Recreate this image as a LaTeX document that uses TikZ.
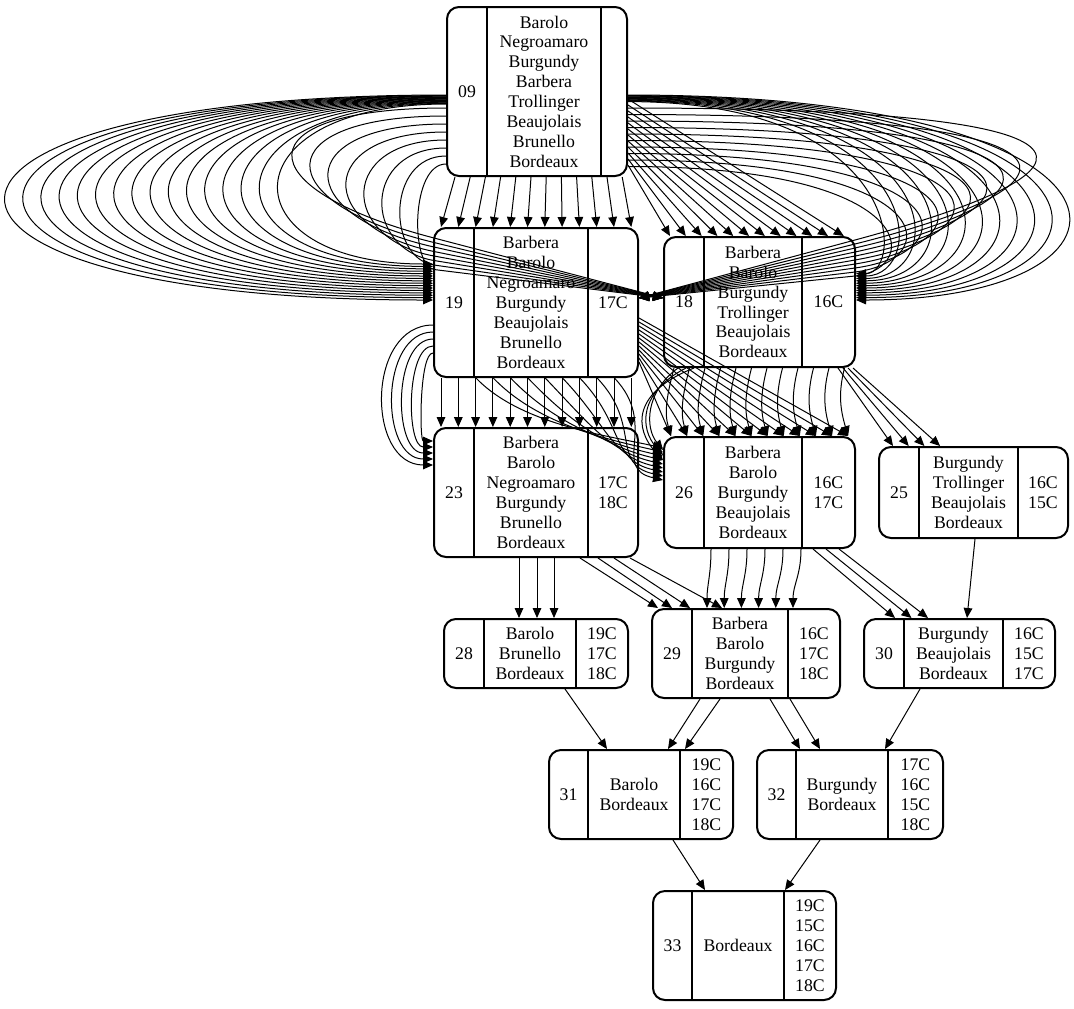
\documentclass[tikz,border=0pt]{standalone}
\usepackage{fontspec}
\setmainfont{Liberation Serif}
\usetikzlibrary{arrows.meta,fit}
\tikzset{
  recbox/.style={draw, line width=1.5pt, rounded corners=9pt, inner sep=0pt},
  recline/.style={line width=1.5pt},
  rectext/.style={font=\fontsize{13.3}{14.9}\selectfont, align=center, inner sep=0pt},
  edge/.style={line width=0.75pt, -{Triangle[length=7.5pt,width=6.5pt]}},
}
\newcommand\recframe[7]{%
  \node[recbox, fit={(#2,#3) (#4,#5)}] (#1) {};
  \draw[recline] (#1.north -| #6,0) -- (#1.south -| #6,0);
  \draw[recline] (#1.north -| #7,0) -- (#1.south -| #7,0);
  \coordinate (#1-a) at ({(#2+#6)/2},{(#3+#5)/2});
  \coordinate (#1-b) at ({(#6+#7)/2},{(#3+#5)/2});
  \coordinate (#1-c) at ({(#7+#4)/2},{(#3+#5)/2});
}
\begin{document}
\begin{tikzpicture}[x=0.75pt,y=-0.75pt]
\useasboundingbox (0,0) rectangle (1074,1008);

% ---------- nodes ----------
\recframe{n09}{447}{7}{627}{176}{487}{601}
\node[rectext] (n09-id) at (n09-a) {09};
\node[rectext] (n09-w) at (n09-b) {Barolo\\Negroamaro\\Burgundy\\Barbera\\Trollinger\\Beaujolais\\Brunello\\Bordeaux};

\recframe{n19}{434}{228}{638}{377}{474}{588}
\node[rectext] (n19-id) at (n19-a) {19};
\node[rectext] (n19-w) at (n19-b) {Barbera\\Barolo\\Negroamaro\\Burgundy\\Beaujolais\\Brunello\\Bordeaux};
\node[rectext] (n19-cc) at (n19-c) {17C};

\recframe{n18}{664}{237}{855}{367}{704}{802}
\node[rectext] (n18-id) at (n18-a) {18};
\node[rectext] (n18-w) at (n18-b) {Barbera\\Barolo\\Burgundy\\Trollinger\\Beaujolais\\Bordeaux};
\node[rectext] (n18-cc) at (n18-c) {16C};

\recframe{n23}{434}{428}{638}{557}{474}{588}
\node[rectext] (n23-id) at (n23-a) {23};
\node[rectext] (n23-w) at (n23-b) {Barbera\\Barolo\\Negroamaro\\Burgundy\\Brunello\\Bordeaux};
\node[rectext] (n23-cc) at (n23-c) {17C\\18C};

\recframe{n26}{664}{437}{855}{548}{704}{802}
\node[rectext] (n26-id) at (n26-a) {26};
\node[rectext] (n26-w) at (n26-b) {Barbera\\Barolo\\Burgundy\\Beaujolais\\Bordeaux};
\node[rectext] (n26-cc) at (n26-c) {16C\\17C};

\recframe{n25}{879}{447}{1068}{538}{919}{1018}
\node[rectext] (n25-id) at (n25-a) {25};
\node[rectext] (n25-w) at (n25-b) {Burgundy\\Trollinger\\Beaujolais\\Bordeaux};
\node[rectext] (n25-cc) at (n25-c) {16C\\15C};

\recframe{n28}{444}{619}{628}{688}{484}{576}
\node[rectext] (n28-id) at (n28-a) {28};
\node[rectext] (n28-w) at (n28-b) {Barolo\\Brunello\\Bordeaux};
\node[rectext] (n28-cc) at (n28-c) {19C\\17C\\18C};

\recframe{n29}{652}{609}{840}{698}{692}{788}
\node[rectext] (n29-id) at (n29-a) {29};
\node[rectext] (n29-w) at (n29-b) {Barbera\\Barolo\\Burgundy\\Bordeaux};
\node[rectext] (n29-cc) at (n29-c) {16C\\17C\\18C};

\recframe{n30}{864}{619}{1055}{688}{904}{1003}
\node[rectext] (n30-id) at (n30-a) {30};
\node[rectext] (n30-w) at (n30-b) {Burgundy\\Beaujolais\\Bordeaux};
\node[rectext] (n30-cc) at (n30-c) {16C\\15C\\17C};

\recframe{n31}{549}{750}{733}{839}{588}{680}
\node[rectext] (n31-id) at (n31-a) {31};
\node[rectext] (n31-w) at (n31-b) {Barolo\\Bordeaux};
\node[rectext] (n31-cc) at (n31-c) {19C\\16C\\17C\\18C};

\recframe{n32}{757}{750}{943}{839}{796}{888}
\node[rectext] (n32-id) at (n32-a) {32};
\node[rectext] (n32-w) at (n32-b) {Burgundy\\Bordeaux};
\node[rectext] (n32-cc) at (n32-c) {17C\\16C\\15C\\18C};

\recframe{n33}{653}{891}{836}{1000}{692}{784}
\node[rectext] (n33-id) at (n33-a) {33};
\node[rectext] (n33-w) at (n33-b) {Bordeaux};
\node[rectext] (n33-cc) at (n33-c) {19C\\15C\\16C\\17C\\18C};

% ---------- 09 -> 19 / 18 ----------
% big left loops 09 -> 19 (west)
\foreach \k in {0,...,15} {
  \pgfmathsetmacro\X{6+18.2*\k}
  \pgfmathsetmacro\ys{95+0.6*\k}
  \pgfmathsetmacro\ye{300-2.4*\k}
  \pgfmathsetmacro\cx{(8*\X-881)/6}
  \draw[edge] (n09.west |- 0,\ys) .. controls (\cx,\ys) and (\cx,\ye) .. (n19.west |- 0,\ye);
}
% inner left loops 09 -> 18 (west), through 19
\foreach \k in {0,...,7} {
  \pgfmathsetmacro\ys{108+8*\k}
  \pgfmathsetmacro\yin{238+4.5*\k}
  \pgfmathsetmacro\X{292+18*\k}
  \pgfmathsetmacro\cx{(8*\X-881)/6}
  \pgfmathsetmacro\m{(298-\yin)/230}
  \pgfmathsetmacro\pty{\yin-(434-\cx)*\m}
  \draw[edge] (n09.west |- 0,\ys) .. controls (\cx,\ys) and (\cx,\pty) .. (434,\yin) -- (n18.west |- 0,298);
}
% big right loops 09 -> 18 (east)
\foreach \k in {0,...,11} {
  \pgfmathsetmacro\X{1062-18*\k}
  \pgfmathsetmacro\ys{95+0.6*\k}
  \pgfmathsetmacro\ye{300-2.4*\k}
  \pgfmathsetmacro\cx{(8*\X-1482)/6}
  \draw[edge] (n09.east |- 0,\ys) .. controls (\cx,\ys) and (\cx,\ye) .. (n18.east |- 0,\ye);
}
% inner right loops 09 -> 19 (east), through 18
\foreach \k in {0,...,9} {
  \pgfmathsetmacro\ys{108+6.5*\k}
  \pgfmathsetmacro\yin{240+4*\k}
  \pgfmathsetmacro\X{1030-17*\k}
  \pgfmathsetmacro\cx{(8*\X-1482)/6}
  \pgfmathsetmacro\m{(298-\yin)/215}
  \pgfmathsetmacro\pty{\yin-(\cx-855)*\m}
  \draw[edge] (n09.east |- 0,\ys) .. controls (\cx,\ys) and (\cx,\pty) .. (855,\yin) -- (n19.east |- 0,298);
}
% 09 -> 19 top
\foreach \i in {0,...,11} {
  \pgfmathsetmacro\xs{455+15.2*\i}
  \pgfmathsetmacro\xe{441+17.3*\i}
  \draw[edge] (n09.south -| \xs,0) -- (n19.north -| \xe,0);
}
% 09 -> 18 top
\foreach \i in {0,...,11} {
  \pgfmathsetmacro\ys{165-6*\i}
  \pgfmathsetmacro\xe{670+15.8*\i}
  \draw[edge] (n09.east |- 0,\ys) -- (n18.north -| \xe,0);
}

% ---------- 19 / 18 -> 23 / 26 / 25 ----------
% 19 -> 23 left loops
\foreach \k in {0,...,4} {
  \pgfmathsetmacro\X{383+10*\k}
  \pgfmathsetmacro\ys{325+7*\k}
  \pgfmathsetmacro\ye{465-6*\k}
  \pgfmathsetmacro\cx{(8*\X-868)/6}
  \draw[edge] (n19.west |- 0,\ys) .. controls (\cx,\ys) and (\cx,\ye) .. (n23.west |- 0,\ye);
}
% 19 -> 23 top
\foreach \i in {0,...,11} {
  \pgfmathsetmacro\xx{441+17.3*\i}
  \draw[edge] (n19.south -| \xx,0) -- (n23.north -| \xx,0);
}
% 19 -> 26 west, across 23
\foreach \i in {0,...,8} {
  \pgfmathsetmacro\xs{476+17.3*\i}
  \pgfmathsetmacro\ye{448+4*\i}
  \pgfmathsetmacro\ca{\xs+45}
  \pgfmathsetmacro\cb{\ye-12}
  \draw[edge] (n19.south -| \xs,0) .. controls (\ca,425) and (610,\cb) .. (n26.west |- 0,\ye);
}
% 19 -> 26 top, across 18
\foreach \i in {0,...,11} {
  \pgfmathsetmacro\ys{362-4*\i}
  \pgfmathsetmacro\xe{671+16.1*\i}
  \draw[edge] (n19.east |- 0,\ys) -- (n26.north -| \xe,0);
}
% 18 -> 26 top
\foreach \i in {0,...,11} {
  \pgfmathsetmacro\xs{674+15.5*\i}
  \pgfmathsetmacro\xe{671+16.1*\i}
  \pgfmathsetmacro\ca{\xs-7}
  \pgfmathsetmacro\cb{\xe-7}
  \draw[edge] (n18.south -| \xs,0) .. controls (\ca,395) and (\cb,412) .. (n26.north -| \xe,0);
}
% 18 -> 26 west loops
\foreach \k in {0,...,2} {
  \pgfmathsetmacro\xs{678+8*\k}
  \pgfmathsetmacro\ca{645-6*\k}
  \pgfmathsetmacro\ye{450+5*\k}
  \draw[edge] (n18.south -| \xs,0) .. controls (\ca,392) and (\ca,428) .. (n26.west |- 0,\ye);
}
% 18 -> 25
\foreach \i in {0,...,3} {
  \pgfmathsetmacro\xs{838+5*\i}
  \pgfmathsetmacro\xe{893+15.7*\i}
  \draw[edge] (n18.south -| \xs,0) -- (n25.north -| \xe,0);
}

% ---------- lower tiers ----------
\foreach \xx in {519,537,554} {
  \draw[edge] (n23.south -| \xx,0) -- (n28.north -| \xx,0);
}
\foreach \xs/\xe in {580/658,598/672,614/690,630/722} {
  \draw[edge] (n23.south -| \xs,0) -- (n29.north -| \xe,0);
}
\foreach \i in {0,...,5} {
  \pgfmathsetmacro\xs{711+18*\i}
  \pgfmathsetmacro\xe{707+17.2*\i}
  \draw[edge] (n26.south -| \xs,0) .. controls (\xs,575) and (\xe,585) .. (n29.north -| \xe,0);
}
\foreach \xs/\xe in {813/895,826/911.5,839/928} {
  \draw[edge] (n26.south -| \xs,0) -- (n30.north -| \xe,0);
}
\draw[edge] (n25.south -| 975,0) -- (n30.north -| 967,0);
\draw[edge] (n28.south -| 565,0) -- (n31.north -| 607,0);
\draw[edge] (n29.south -| 700,0) -- (n31.north -| 668,0);
\draw[edge] (n29.south -| 720,0) -- (n31.north -| 685,0);
\draw[edge] (n29.south -| 770,0) -- (n32.north -| 800,0);
\draw[edge] (n29.south -| 790,0) -- (n32.north -| 820,0);
\draw[edge] (n30.south -| 920,0) -- (n32.north -| 885,0);
\draw[edge] (n31.south -| 673,0) -- (n33.north -| 705,0);
\draw[edge] (n32.south -| 820,0) -- (n33.north -| 785,0);
\end{tikzpicture}
\end{document}
